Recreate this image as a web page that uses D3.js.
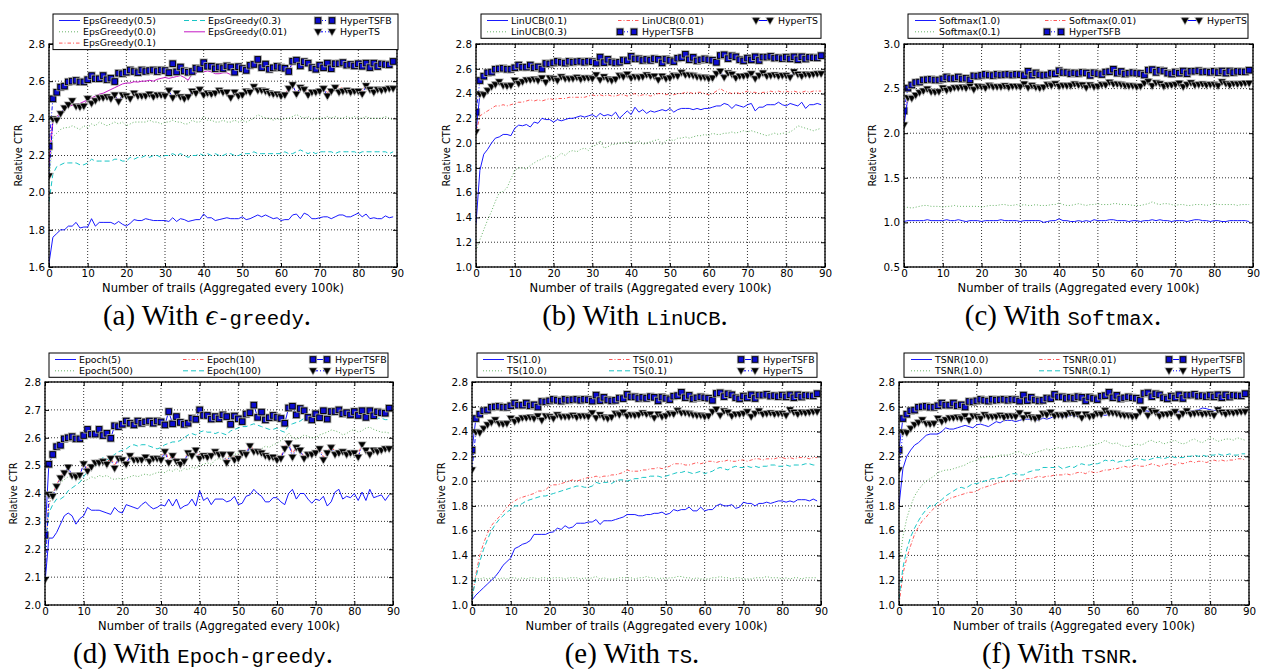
<!DOCTYPE html>
<html>
<head>
<meta charset="utf-8">
<script src="https://cdn.jsdelivr.net/npm/d3@7"></script>
<style>
body { margin: 0; background: #fff; }
svg { display: block; }
</style>
</head>
<body>
<svg id="fig" width="1261" height="669" font-family="DejaVu Sans, sans-serif"></svg>
<script>
// x positions: number of trails, aggregated every 100k
var trials = d3.range(0, 90);
var xTicks = [0, 10, 20, 30, 40, 50, 60, 70, 80, 90];

// shared by every panel
var hyperTSFB = [
  2.25, 2.505, 2.54, 2.568, 2.573, 2.596, 2.60, 2.604, 2.596, 2.596,
  2.608, 2.63, 2.613, 2.613, 2.63, 2.608, 2.616, 2.598, 2.643, 2.64,
  2.648, 2.66, 2.652, 2.646, 2.66, 2.652, 2.657, 2.66, 2.652, 2.66,
  2.657, 2.646, 2.694, 2.65, 2.676, 2.655, 2.648, 2.652, 2.67, 2.666,
  2.70, 2.68, 2.68, 2.667, 2.676, 2.668, 2.682, 2.676, 2.648, 2.678,
  2.668, 2.658, 2.685, 2.69, 2.717, 2.673, 2.692, 2.664, 2.672, 2.68,
  2.673, 2.669, 2.652, 2.707, 2.713, 2.682, 2.705, 2.697, 2.673, 2.664,
  2.686, 2.672, 2.697, 2.667, 2.694, 2.694, 2.70, 2.686, 2.69, 2.682,
  2.694, 2.68, 2.697, 2.673, 2.697, 2.679, 2.693, 2.69, 2.688, 2.706];
var hyperTS = [
  2.09, 2.396, 2.39, 2.425, 2.455, 2.473, 2.494, 2.464, 2.46, 2.465,
  2.506, 2.48, 2.495, 2.51, 2.51, 2.515, 2.505, 2.525, 2.49, 2.525,
  2.52, 2.505, 2.535, 2.52, 2.52, 2.52, 2.53, 2.515, 2.525, 2.525,
  2.52, 2.55, 2.51, 2.535, 2.515, 2.505, 2.515, 2.545, 2.535, 2.555,
  2.525, 2.535, 2.53, 2.535, 2.55, 2.54, 2.54, 2.51, 2.54, 2.52,
  2.525, 2.545, 2.54, 2.57, 2.55, 2.55, 2.545, 2.535, 2.53, 2.53,
  2.52, 2.525, 2.56, 2.58, 2.53, 2.565, 2.555, 2.525, 2.54, 2.54,
  2.545, 2.56, 2.52, 2.545, 2.565, 2.54, 2.545, 2.55, 2.54, 2.545,
  2.545, 2.53, 2.575, 2.555, 2.54, 2.555, 2.55, 2.555, 2.56, 2.56];

// (a) epsilon-greedy
var eps05 = [
  1.62, 1.76, 1.78, 1.80, 1.80, 1.82, 1.82, 1.84, 1.81, 1.815,
  1.815, 1.86, 1.82, 1.84, 1.84, 1.84, 1.84, 1.83, 1.845, 1.83,
  1.82, 1.835, 1.855, 1.85, 1.85, 1.86, 1.855, 1.85, 1.85, 1.85,
  1.85, 1.845, 1.865, 1.845, 1.86, 1.855, 1.845, 1.85, 1.855, 1.855,
  1.885, 1.865, 1.865, 1.85, 1.855, 1.86, 1.865, 1.86, 1.86, 1.86,
  1.87, 1.855, 1.86, 1.87, 1.88, 1.87, 1.88, 1.87, 1.86, 1.865,
  1.85, 1.855, 1.855, 1.88, 1.885, 1.86, 1.89, 1.88, 1.86, 1.86,
  1.865, 1.87, 1.87, 1.86, 1.87, 1.88, 1.88, 1.87, 1.87, 1.88,
  1.89, 1.87, 1.885, 1.86, 1.865, 1.86, 1.86, 1.875, 1.865, 1.87];
var eps00 = [
  2.05, 2.30, 2.32, 2.34, 2.35, 2.35, 2.36, 2.35, 2.34, 2.36,
  2.35, 2.37, 2.36, 2.38, 2.37, 2.36, 2.37, 2.38, 2.37, 2.38,
  2.36, 2.37, 2.38, 2.38, 2.38, 2.38, 2.39, 2.38, 2.38, 2.37,
  2.38, 2.38, 2.39, 2.38, 2.38, 2.37, 2.37, 2.39, 2.38, 2.38,
  2.41, 2.39, 2.39, 2.38, 2.38, 2.39, 2.38, 2.38, 2.39, 2.38,
  2.39, 2.38, 2.39, 2.40, 2.42, 2.41, 2.40, 2.40, 2.39, 2.40,
  2.39, 2.40, 2.40, 2.41, 2.42, 2.41, 2.40, 2.41, 2.39, 2.40,
  2.40, 2.40, 2.41, 2.40, 2.41, 2.40, 2.40, 2.41, 2.40, 2.41,
  2.40, 2.40, 2.41, 2.40, 2.40, 2.40, 2.40, 2.41, 2.40, 2.39];
var eps01 = [
  2.20, 2.39, 2.41, 2.43, 2.45, 2.47, 2.48, 2.47, 2.47, 2.47,
  2.50, 2.49, 2.50, 2.51, 2.51, 2.51, 2.51, 2.52, 2.50, 2.52,
  2.52, 2.51, 2.53, 2.52, 2.52, 2.52, 2.53, 2.52, 2.52, 2.53,
  2.52, 2.54, 2.52, 2.53, 2.52, 2.51, 2.52, 2.54, 2.54, 2.55,
  2.53, 2.54, 2.53, 2.54, 2.55, 2.54, 2.54, 2.52, 2.54, 2.53,
  2.53, 2.55, 2.54, 2.56, 2.56, 2.55, 2.55, 2.54, 2.54, 2.54,
  2.53, 2.53, 2.56, 2.57, 2.54, 2.56, 2.56, 2.54, 2.55, 2.55,
  2.55, 2.56, 2.54, 2.55, 2.57, 2.57, 2.56, 2.56, 2.55, 2.56,
  2.56, 2.55, 2.58, 2.57, 2.55, 2.56, 2.56, 2.56, 2.57, 2.57];
var eps03 = [
  1.95, 2.10, 2.14, 2.15, 2.16, 2.16, 2.16, 2.16, 2.15, 2.15,
  2.16, 2.18, 2.17, 2.17, 2.17, 2.17, 2.17, 2.18, 2.18, 2.17,
  2.17, 2.19, 2.18, 2.19, 2.19, 2.20, 2.19, 2.20, 2.20, 2.19,
  2.20, 2.20, 2.21, 2.20, 2.21, 2.20, 2.19, 2.20, 2.20, 2.21,
  2.20, 2.21, 2.20, 2.21, 2.20, 2.20, 2.21, 2.21, 2.20, 2.20,
  2.21, 2.21, 2.21, 2.22, 2.21, 2.21, 2.21, 2.21, 2.21, 2.21,
  2.21, 2.22, 2.21, 2.21, 2.22, 2.23, 2.22, 2.21, 2.22, 2.21,
  2.22, 2.22, 2.22, 2.22, 2.21, 2.22, 2.22, 2.22, 2.22, 2.22,
  2.21, 2.22, 2.22, 2.22, 2.22, 2.22, 2.22, 2.22, 2.21, 2.22];
var eps001 = [
  2.15, 2.38, 2.41, 2.43, 2.45, 2.465, 2.47, 2.475, 2.48, 2.49,
  2.50, 2.51, 2.52, 2.53, 2.535, 2.545, 2.555, 2.565, 2.575, 2.585,
  2.59, 2.59, 2.597, 2.595, 2.60, 2.60, 2.605, 2.60, 2.61, 2.615,
  2.62, 2.615, 2.62, 2.625, 2.63, 2.62, 2.605, 2.64, 2.64, 2.66,
  2.65, 2.655, 2.65, 2.64, 2.64, 2.645, 2.645, 2.635, 2.64, 2.655,
  2.65, 2.66, 2.68, 2.69, 2.70, 2.68, 2.685, 2.67, 2.675, 2.675,
  2.675, 2.67, 2.665, 2.69, 2.70, 2.685, 2.695, 2.685, 2.665, 2.67,
  2.68, 2.675, 2.69, 2.67, 2.69, 2.69, 2.695, 2.685, 2.685, 2.68,
  2.69, 2.68, 2.69, 2.675, 2.69, 2.68, 2.69, 2.685, 2.685, 2.695];

// (b) LinUCB
var linucb01 = [
  1.35, 1.78, 1.91, 1.95, 2.00, 2.04, 2.05, 2.07, 2.07, 2.06,
  2.12, 2.145, 2.14, 2.15, 2.13, 2.17, 2.16, 2.20, 2.19, 2.19,
  2.17, 2.19, 2.18, 2.19, 2.20, 2.20, 2.21, 2.22, 2.21, 2.22,
  2.23, 2.21, 2.24, 2.22, 2.23, 2.22, 2.25, 2.20, 2.23, 2.26,
  2.23, 2.29, 2.25, 2.27, 2.24, 2.26, 2.25, 2.26, 2.27, 2.26,
  2.28, 2.25, 2.27, 2.28, 2.28, 2.28, 2.27, 2.28, 2.27, 2.28,
  2.28, 2.29, 2.30, 2.30, 2.32, 2.31, 2.28, 2.31, 2.30, 2.29,
  2.31, 2.32, 2.26, 2.29, 2.29, 2.31, 2.31, 2.31, 2.33, 2.31,
  2.30, 2.32, 2.31, 2.30, 2.33, 2.28, 2.31, 2.31, 2.32, 2.31];
var linucb03 = [
  1.13, 1.22, 1.30, 1.38, 1.45, 1.53, 1.60, 1.61, 1.64, 1.71,
  1.78, 1.80, 1.80, 1.79, 1.82, 1.84, 1.86, 1.87, 1.89, 1.90,
  1.87, 1.89, 1.92, 1.90, 1.93, 1.94, 1.93, 1.95, 1.96, 1.94,
  1.98, 1.98, 2.02, 1.96, 1.97, 1.99, 1.99, 2.00, 2.00, 2.01,
  2.00, 2.00, 2.02, 1.99, 2.00, 2.01, 2.02, 2.03, 1.99, 2.02,
  2.03, 2.02, 2.04, 2.04, 2.05, 2.04, 2.05, 2.06, 2.06, 2.07,
  2.06, 2.08, 2.07, 2.07, 2.08, 2.08, 2.09, 2.08, 2.09, 2.10,
  2.09, 2.10, 2.09, 2.08, 2.07, 2.06, 2.07, 2.08, 2.07, 2.08,
  2.08, 2.09, 2.11, 2.14, 2.13, 2.12, 2.11, 2.10, 2.11, 2.12];
var linucb001 = [
  2.08, 2.22, 2.24, 2.26, 2.28, 2.30, 2.30, 2.31, 2.30, 2.31,
  2.32, 2.33, 2.33, 2.34, 2.35, 2.34, 2.35, 2.34, 2.35, 2.36,
  2.35, 2.36, 2.36, 2.36, 2.37, 2.37, 2.37, 2.37, 2.37, 2.38,
  2.39, 2.38, 2.39, 2.38, 2.39, 2.38, 2.38, 2.39, 2.39, 2.38,
  2.39, 2.40, 2.38, 2.39, 2.39, 2.38, 2.39, 2.40, 2.40, 2.39,
  2.40, 2.39, 2.40, 2.40, 2.41, 2.41, 2.40, 2.41, 2.41, 2.40,
  2.39, 2.40, 2.42, 2.44, 2.42, 2.41, 2.40, 2.41, 2.40, 2.41,
  2.42, 2.41, 2.41, 2.40, 2.41, 2.41, 2.42, 2.41, 2.42, 2.41,
  2.42, 2.41, 2.42, 2.41, 2.41, 2.42, 2.41, 2.42, 2.42, 2.42];

// (c) Softmax
var soft10 = [
  1.01, 1.02, 1.02, 1.02, 1.02, 1.02, 1.03, 1.02, 1.02, 1.02,
  1.02, 1.03, 1.02, 1.02, 1.03, 1.02, 1.01, 1.02, 1.02, 1.02,
  1.01, 1.02, 1.02, 1.02, 1.02, 1.03, 1.02, 1.02, 1.02, 1.02,
  1.01, 1.02, 1.02, 1.02, 1.02, 1.02, 1.00, 1.01, 1.02, 1.02,
  1.04, 1.02, 1.02, 1.01, 1.01, 1.02, 1.01, 1.02, 1.01, 1.03,
  1.02, 1.02, 1.02, 1.03, 1.03, 1.02, 1.02, 1.02, 1.01, 1.02,
  1.02, 1.01, 1.02, 1.02, 1.03, 1.02, 1.03, 1.02, 1.02, 1.01,
  1.02, 1.02, 1.02, 1.01, 1.02, 1.03, 1.03, 1.02, 1.02, 1.01,
  1.02, 1.02, 1.01, 1.01, 1.02, 1.02, 1.02, 1.02, 1.02, 1.01];
var soft01 = [
  1.16, 1.17, 1.16, 1.17, 1.18, 1.19, 1.19, 1.18, 1.18, 1.18,
  1.17, 1.18, 1.18, 1.19, 1.18, 1.18, 1.18, 1.18, 1.18, 1.18,
  1.17, 1.18, 1.19, 1.19, 1.19, 1.20, 1.20, 1.19, 1.19, 1.20,
  1.19, 1.20, 1.19, 1.19, 1.20, 1.19, 1.19, 1.19, 1.20, 1.20,
  1.22, 1.20, 1.19, 1.19, 1.20, 1.21, 1.20, 1.19, 1.20, 1.20,
  1.21, 1.20, 1.20, 1.20, 1.21, 1.21, 1.20, 1.20, 1.20, 1.19,
  1.19, 1.19, 1.20, 1.21, 1.23, 1.21, 1.20, 1.21, 1.21, 1.20,
  1.19, 1.20, 1.20, 1.19, 1.19, 1.20, 1.20, 1.20, 1.19, 1.20,
  1.21, 1.20, 1.20, 1.20, 1.20, 1.20, 1.19, 1.20, 1.20, 1.20];
var soft001 = [
  2.15, 2.40, 2.41, 2.43, 2.45, 2.47, 2.49, 2.47, 2.48, 2.48,
  2.51, 2.49, 2.50, 2.52, 2.51, 2.52, 2.51, 2.53, 2.51, 2.53,
  2.52, 2.52, 2.54, 2.53, 2.52, 2.53, 2.54, 2.52, 2.53, 2.53,
  2.53, 2.56, 2.52, 2.54, 2.52, 2.52, 2.53, 2.55, 2.54, 2.56,
  2.54, 2.54, 2.54, 2.55, 2.56, 2.55, 2.55, 2.52, 2.55, 2.53,
  2.53, 2.55, 2.55, 2.57, 2.56, 2.56, 2.55, 2.54, 2.54, 2.54,
  2.53, 2.53, 2.56, 2.58, 2.54, 2.57, 2.56, 2.53, 2.55, 2.55,
  2.55, 2.57, 2.53, 2.55, 2.57, 2.55, 2.56, 2.56, 2.55, 2.56,
  2.56, 2.54, 2.58, 2.56, 2.55, 2.56, 2.56, 2.56, 2.57, 2.57];

// (d) Epoch-greedy
var epoch5 = [
  2.08, 2.24, 2.24, 2.26, 2.29, 2.32, 2.33, 2.32, 2.29, 2.31,
  2.32, 2.35, 2.34, 2.34, 2.34, 2.335, 2.33, 2.325, 2.35, 2.335,
  2.33, 2.36, 2.355, 2.35, 2.345, 2.36, 2.37, 2.355, 2.345, 2.35,
  2.36, 2.355, 2.38, 2.355, 2.38, 2.345, 2.355, 2.36, 2.38, 2.355,
  2.41, 2.375, 2.385, 2.36, 2.38, 2.38, 2.38, 2.37, 2.375, 2.39,
  2.36, 2.365, 2.39, 2.395, 2.415, 2.40, 2.39, 2.37, 2.37, 2.385,
  2.385, 2.37, 2.36, 2.40, 2.415, 2.38, 2.40, 2.40, 2.38, 2.365,
  2.38, 2.375, 2.39, 2.355, 2.37, 2.405, 2.415, 2.38, 2.39, 2.385,
  2.40, 2.375, 2.405, 2.375, 2.415, 2.385, 2.39, 2.395, 2.375, 2.395];
var epoch500 = [
  2.20, 2.36, 2.40, 2.42, 2.44, 2.45, 2.46, 2.46, 2.455, 2.45,
  2.445, 2.45, 2.46, 2.455, 2.465, 2.46, 2.465, 2.455, 2.45, 2.455,
  2.45, 2.455, 2.46, 2.465, 2.46, 2.466, 2.47, 2.465, 2.47, 2.475,
  2.478, 2.475, 2.485, 2.48, 2.49, 2.478, 2.49, 2.485, 2.495, 2.49,
  2.50, 2.505, 2.51, 2.505, 2.52, 2.526, 2.52, 2.53, 2.525, 2.54,
  2.545, 2.55, 2.545, 2.56, 2.555, 2.556, 2.56, 2.57, 2.565, 2.575,
  2.58, 2.59, 2.60, 2.617, 2.60, 2.595, 2.60, 2.61, 2.605, 2.60,
  2.60, 2.61, 2.615, 2.62, 2.628, 2.625, 2.62, 2.61, 2.615, 2.625,
  2.63, 2.62, 2.625, 2.635, 2.638, 2.63, 2.625, 2.62, 2.62, 2.617];
var epoch10 = [
  2.20, 2.36, 2.40, 2.43, 2.46, 2.48, 2.49, 2.47, 2.46, 2.47,
  2.51, 2.49, 2.50, 2.51, 2.52, 2.52, 2.51, 2.53, 2.50, 2.53,
  2.52, 2.51, 2.54, 2.53, 2.52, 2.53, 2.53, 2.52, 2.53, 2.53,
  2.53, 2.56, 2.52, 2.54, 2.52, 2.51, 2.52, 2.55, 2.54, 2.56,
  2.53, 2.54, 2.53, 2.54, 2.555, 2.55, 2.54, 2.52, 2.545, 2.53,
  2.53, 2.55, 2.545, 2.575, 2.555, 2.555, 2.55, 2.54, 2.535, 2.535,
  2.53, 2.53, 2.57, 2.59, 2.54, 2.57, 2.56, 2.53, 2.545, 2.545,
  2.55, 2.57, 2.53, 2.55, 2.57, 2.55, 2.55, 2.555, 2.545, 2.55,
  2.55, 2.54, 2.58, 2.56, 2.545, 2.56, 2.555, 2.56, 2.565, 2.565];
var epoch100 = [
  2.20, 2.33, 2.36, 2.38, 2.38, 2.39, 2.41, 2.42, 2.43, 2.44,
  2.46, 2.48, 2.49, 2.50, 2.51, 2.53, 2.52, 2.53, 2.54, 2.55,
  2.555, 2.56, 2.57, 2.575, 2.57, 2.575, 2.575, 2.57, 2.565, 2.56,
  2.565, 2.575, 2.58, 2.585, 2.585, 2.59, 2.60, 2.61, 2.615, 2.61,
  2.62, 2.625, 2.62, 2.62, 2.615, 2.62, 2.615, 2.61, 2.625, 2.63,
  2.635, 2.64, 2.64, 2.645, 2.65, 2.645, 2.64, 2.635, 2.63, 2.63,
  2.635, 2.625, 2.62, 2.645, 2.65, 2.655, 2.66, 2.67, 2.675, 2.68,
  2.68, 2.675, 2.68, 2.685, 2.68, 2.68, 2.685, 2.68, 2.68, 2.675,
  2.68, 2.68, 2.675, 2.68, 2.675, 2.67, 2.67, 2.67, 2.665, 2.665];

// (e) TS
var ts10 = [
  1.04, 1.08, 1.11, 1.14, 1.17, 1.20, 1.23, 1.27, 1.32, 1.35,
  1.38, 1.455, 1.47, 1.49, 1.50, 1.52, 1.57, 1.57, 1.57, 1.57,
  1.585, 1.59, 1.62, 1.61, 1.64, 1.62, 1.63, 1.66, 1.66, 1.66,
  1.67, 1.67, 1.69, 1.65, 1.68, 1.68, 1.68, 1.69, 1.70, 1.71,
  1.73, 1.73, 1.73, 1.72, 1.72, 1.73, 1.73, 1.74, 1.74, 1.75,
  1.73, 1.74, 1.77, 1.76, 1.77, 1.77, 1.79, 1.76, 1.76, 1.79,
  1.76, 1.77, 1.77, 1.80, 1.815, 1.80, 1.80, 1.81, 1.78, 1.79,
  1.83, 1.82, 1.82, 1.80, 1.82, 1.82, 1.83, 1.82, 1.83, 1.84,
  1.84, 1.83, 1.84, 1.83, 1.85, 1.85, 1.85, 1.84, 1.855, 1.84];
var ts100 = [
  1.21, 1.22, 1.21, 1.22, 1.21, 1.22, 1.22, 1.21, 1.22, 1.21,
  1.22, 1.22, 1.21, 1.22, 1.21, 1.22, 1.22, 1.21, 1.22, 1.22,
  1.21, 1.22, 1.22, 1.22, 1.21, 1.22, 1.22, 1.22, 1.21, 1.22,
  1.21, 1.22, 1.23, 1.21, 1.22, 1.21, 1.21, 1.21, 1.22, 1.22,
  1.22, 1.22, 1.21, 1.22, 1.22, 1.23, 1.22, 1.22, 1.21, 1.22,
  1.21, 1.22, 1.22, 1.23, 1.23, 1.22, 1.22, 1.21, 1.22, 1.21,
  1.21, 1.21, 1.22, 1.22, 1.23, 1.22, 1.22, 1.21, 1.22, 1.22,
  1.21, 1.21, 1.21, 1.22, 1.22, 1.22, 1.23, 1.22, 1.22, 1.22,
  1.21, 1.22, 1.21, 1.22, 1.22, 1.21, 1.22, 1.22, 1.22, 1.22];
var ts001 = [
  1.05, 1.25, 1.40, 1.50, 1.58, 1.64, 1.68, 1.71, 1.75, 1.79,
  1.82, 1.84, 1.86, 1.87, 1.88, 1.89, 1.90, 1.92, 1.92, 1.93,
  1.96, 1.97, 1.97, 1.98, 1.99, 2.00, 2.01, 2.00, 2.01, 2.02,
  2.03, 2.03, 2.04, 2.03, 2.04, 2.04, 2.05, 2.05, 2.06, 2.07,
  2.09, 2.08, 2.08, 2.08, 2.09, 2.09, 2.10, 2.10, 2.11, 2.10,
  2.11, 2.12, 2.14, 2.14, 2.14, 2.13, 2.13, 2.14, 2.15, 2.14,
  2.15, 2.16, 2.16, 2.15, 2.16, 2.16, 2.17, 2.16, 2.16, 2.17,
  2.17, 2.16, 2.17, 2.18, 2.18, 2.17, 2.18, 2.18, 2.18, 2.19,
  2.19, 2.18, 2.19, 2.18, 2.19, 2.19, 2.19, 2.18, 2.19, 2.19];
var ts01 = [
  1.05, 1.22, 1.35, 1.45, 1.53, 1.60, 1.65, 1.69, 1.72, 1.75,
  1.77, 1.80, 1.80, 1.82, 1.84, 1.85, 1.86, 1.87, 1.88, 1.88,
  1.89, 1.90, 1.91, 1.92, 1.93, 1.94, 1.95, 1.96, 1.96, 1.95,
  1.95, 1.96, 1.99, 1.98, 1.99, 1.99, 1.98, 2.00, 2.01, 2.01,
  2.00, 2.01, 2.02, 2.02, 2.03, 2.03, 2.04, 2.04, 2.04, 2.03,
  2.04, 2.05, 2.06, 2.07, 2.07, 2.08, 2.07, 2.06, 2.07, 2.08,
  2.06, 2.07, 2.08, 2.10, 2.11, 2.10, 2.09, 2.11, 2.12, 2.11,
  2.11, 2.12, 2.11, 2.12, 2.11, 2.12, 2.12, 2.13, 2.13, 2.12,
  2.12, 2.13, 2.12, 2.13, 2.13, 2.13, 2.14, 2.14, 2.13, 2.13];

// (f) TSNR
var tsnr10 = [
  1.80, 2.10, 2.20, 2.25, 2.29, 2.31, 2.34, 2.37, 2.38, 2.38,
  2.38, 2.40, 2.43, 2.42, 2.42, 2.43, 2.44, 2.45, 2.44, 2.43,
  2.455, 2.46, 2.45, 2.44, 2.46, 2.48, 2.47, 2.49, 2.49, 2.49,
  2.48, 2.49, 2.50, 2.50, 2.50, 2.50, 2.49, 2.51, 2.50, 2.51,
  2.525, 2.52, 2.52, 2.52, 2.53, 2.53, 2.52, 2.52, 2.53, 2.53,
  2.53, 2.53, 2.54, 2.53, 2.54, 2.54, 2.55, 2.55, 2.55, 2.55,
  2.54, 2.545, 2.55, 2.57, 2.565, 2.56, 2.555, 2.55, 2.55, 2.555,
  2.555, 2.56, 2.56, 2.56, 2.57, 2.565, 2.57, 2.575, 2.59, 2.585,
  2.575, 2.57, 2.57, 2.57, 2.565, 2.565, 2.57, 2.57, 2.575, 2.57];
var tsnr1 = [
  1.30, 1.55, 1.70, 1.80, 1.88, 1.93, 1.97, 2.00, 2.02, 2.04,
  2.07, 2.08, 2.09, 2.09, 2.10, 2.11, 2.12, 2.13, 2.15, 2.16,
  2.17, 2.19, 2.19, 2.20, 2.19, 2.20, 2.21, 2.21, 2.21, 2.22,
  2.23, 2.24, 2.22, 2.21, 2.22, 2.23, 2.24, 2.25, 2.26, 2.25,
  2.26, 2.27, 2.26, 2.27, 2.27, 2.28, 2.28, 2.27, 2.28, 2.29,
  2.29, 2.30, 2.31, 2.33, 2.31, 2.30, 2.31, 2.29, 2.28, 2.28,
  2.29, 2.30, 2.29, 2.30, 2.32, 2.33, 2.31, 2.32, 2.30, 2.31,
  2.32, 2.33, 2.31, 2.30, 2.31, 2.33, 2.34, 2.32, 2.31, 2.33,
  2.35, 2.34, 2.32, 2.33, 2.34, 2.34, 2.33, 2.35, 2.34, 2.33];
var tsnr001 = [
  1.00, 1.25, 1.38, 1.48, 1.57, 1.63, 1.68, 1.71, 1.75, 1.78,
  1.80, 1.82, 1.84, 1.86, 1.87, 1.88, 1.89, 1.90, 1.91, 1.91,
  1.92, 1.94, 1.95, 1.96, 1.97, 1.98, 1.99, 2.00, 2.00, 2.00,
  2.01, 2.00, 2.01, 2.02, 2.02, 2.03, 2.04, 2.03, 2.04, 2.04,
  2.05, 2.05, 2.05, 2.06, 2.05, 2.06, 2.07, 2.07, 2.06, 2.08,
  2.07, 2.07, 2.08, 2.09, 2.09, 2.10, 2.10, 2.11, 2.12, 2.11,
  2.12, 2.13, 2.12, 2.12, 2.13, 2.14, 2.13, 2.12, 2.13, 2.14,
  2.14, 2.13, 2.15, 2.14, 2.15, 2.16, 2.15, 2.16, 2.16, 2.15,
  2.16, 2.17, 2.16, 2.17, 2.16, 2.17, 2.17, 2.18, 2.18, 2.17];
var tsnr01 = [
  1.05, 1.30, 1.45, 1.55, 1.62, 1.68, 1.73, 1.77, 1.80, 1.80,
  1.83, 1.85, 1.88, 1.90, 1.92, 1.94, 1.95, 1.94, 1.96, 1.98,
  1.98, 1.99, 2.00, 2.01, 2.02, 2.02, 2.03, 2.03, 2.05, 2.06,
  2.06, 2.05, 2.05, 2.07, 2.08, 2.09, 2.09, 2.11, 2.11, 2.11,
  2.11, 2.12, 2.10, 2.11, 2.12, 2.11, 2.13, 2.14, 2.13, 2.13,
  2.14, 2.14, 2.15, 2.17, 2.16, 2.17, 2.15, 2.16, 2.16, 2.17,
  2.17, 2.18, 2.18, 2.17, 2.17, 2.18, 2.19, 2.19, 2.18, 2.19,
  2.20, 2.19, 2.19, 2.19, 2.20, 2.20, 2.21, 2.20, 2.21, 2.20,
  2.21, 2.21, 2.22, 2.21, 2.21, 2.22, 2.21, 2.21, 2.22, 2.22];

var yTicksA = [1.6, 1.8, 2.0, 2.2, 2.4, 2.6, 2.8];
var yTicksB = [1.0, 1.2, 1.4, 1.6, 1.8, 2.0, 2.2, 2.4, 2.6, 2.8];
var yTicksC = [0.5, 1.0, 1.5, 2.0, 2.5, 3.0];
var yTicksD = [2.0, 2.1, 2.2, 2.3, 2.4, 2.5, 2.6, 2.7, 2.8];

var SANS = "DejaVu Sans, sans-serif";
var SERIF = "Liberation Serif, serif";
var MONO = "Liberation Mono, monospace";

// line styles
var BLUE = {color: "#0000ff", dash: null, op: 0.9};
var GREEN = {color: "#008000", dash: "1,2", op: 0.6};
var RED = {color: "#ff0000", dash: "3.5,2,1,2", op: 0.65};
var CYAN = {color: "#00bfbf", dash: "5,3", op: 0.9};
var MAGENTA = {color: "#bf00bf", dash: null, op: 0.9};
var DASHDOT = "4,2,1,2";
var DOTTED = "1,2";

function s(label, data, st, marker, dash) {
  return {label: label, data: data, color: st.color, dash: dash === undefined ? st.dash : dash,
          op: st.op, marker: marker || null};
}

var panels = [
  {id: "a", left: 49, right: 397, top: 44, bottom: 267, yDomain: [1.6, 2.8], yTicks: yTicksA,
   series: [s("EpsGreedy(0.5)", eps05, BLUE), s("EpsGreedy(0.0)", eps00, GREEN), s("EpsGreedy(0.1)", eps01, RED),
            s("EpsGreedy(0.3)", eps03, CYAN), s("EpsGreedy(0.01)", eps001, MAGENTA),
            s("HyperTSFB", hyperTSFB, BLUE, "sq", DASHDOT), s("HyperTS", hyperTS, BLUE, "tri", DASHDOT)],
   legend: {x: 53, y: 14, w: 345, cols: [30, 155, 287]}, ylabX: 18,
   caption: [["(a) With ", "serif"], ["ϵ", "ital"], ["-greedy", "mono"], [".", "serif"]], capX: 207},
  {id: "b", left: 476, right: 825, top: 44, bottom: 267, yDomain: [1.0, 2.8], yTicks: yTicksB,
   series: [s("LinUCB(0.1)", linucb01, BLUE), s("LinUCB(0.3)", linucb03, GREEN), s("LinUCB(0.01)", linucb001, RED),
            s("HyperTSFB", hyperTSFB, BLUE, "sq", DASHDOT), s("HyperTS", hyperTS, BLUE, "tri", null)],
   legend: {x: 481, y: 14, w: 340, cols: [30, 161, 297]}, ylabX: 446,
   caption: [["(b) With ", "serif"], ["LinUCB", "mono"], [".", "serif"]], capX: 635},
  {id: "c", left: 904, right: 1253, top: 44, bottom: 267, yDomain: [0.5, 3.0], yTicks: yTicksC,
   series: [s("Softmax(1.0)", soft10, BLUE), s("Softmax(0.1)", soft01, GREEN), s("Softmax(0.01)", soft001, RED),
            s("HyperTSFB", hyperTSFB, BLUE, "sq", DASHDOT), s("HyperTS", hyperTS, BLUE, "tri", null)],
   legend: {x: 908, y: 14, w: 340, cols: [31, 161, 299]}, ylabX: 872,
   caption: [["(c) With ", "serif"], ["Softmax", "mono"], [".", "serif"]], capX: 1063},
  {id: "d", left: 45, right: 393, top: 382, bottom: 605, yDomain: [2.0, 2.8], yTicks: yTicksD,
   series: [s("Epoch(5)", epoch5, BLUE), s("Epoch(500)", epoch500, GREEN), s("Epoch(10)", epoch10, RED),
            s("Epoch(100)", epoch100, CYAN),
            s("HyperTSFB", hyperTSFB, BLUE, "sq", null), s("HyperTS", hyperTS, BLUE, "tri", DASHDOT)],
   legend: {x: 49, y: 353, w: 339, cols: [30, 158, 286]}, ylabX: 13,
   caption: [["(d) With ", "serif"], ["Epoch-greedy", "mono"], [".", "serif"]], capX: 203},
  {id: "e", left: 472, right: 821, top: 382, bottom: 605, yDomain: [1.0, 2.8], yTicks: yTicksB,
   series: [s("TS(1.0)", ts10, BLUE), s("TS(10.0)", ts100, GREEN), s("TS(0.01)", ts001, RED),
            s("TS(0.1)", ts01, CYAN),
            s("HyperTSFB", hyperTSFB, BLUE, "sq", null), s("HyperTS", hyperTS, BLUE, "tri", DASHDOT)],
   legend: {x: 477, y: 353, w: 340, cols: [30, 156, 286]}, ylabX: 441,
   caption: [["(e) With ", "serif"], ["TS", "mono"], [".", "serif"]], capX: 632},
  {id: "f", left: 899, right: 1249, top: 382, bottom: 605, yDomain: [1.0, 2.8], yTicks: yTicksB,
   series: [s("TSNR(10.0)", tsnr10, BLUE), s("TSNR(1.0)", tsnr1, GREEN), s("TSNR(0.01)", tsnr001, RED),
            s("TSNR(0.1)", tsnr01, CYAN),
            s("HyperTSFB", hyperTSFB, BLUE, "sq", null), s("HyperTS", hyperTS, BLUE, "tri", DOTTED)],
   legend: {x: 904, y: 353, w: 340, cols: [31, 159, 287]}, ylabX: 869,
   caption: [["(f) With ", "serif"], ["TSNR", "mono"], [".", "serif"]], capX: 1060}
];

var svg = d3.select("#fig");
var defs = svg.append("defs");

// pick font sizes so text widths match the reference
var meas = svg.append("text").attr("visibility", "hidden");
function textW(str, family, size) {
  meas.attr("font-family", family).attr("font-size", size).text(str);
  return meas.node().getComputedTextLength();
}
var legendSize = 10 * 73 / textW("EpsGreedy(0.5)", SANS, 10);
var xlabSize = 10 * 242 / textW("Number of trails (Aggregated every 100k)", SANS, 10);
var ylabSize = 10 * 62 / textW("Relative CTR", SANS, 10);
var tickSize = 10 * 16.5 / textW("2.8", SANS, 10);
var serifSize = 10 * 97 / textW("(b) With ", SERIF, 10);
var monoSize = 10 * 12.4 / textW("M", MONO, 10);
meas.remove();

var triPath = "M-3,-2.3L3,-2.3L0,2.9Z";

function drawMarker(sel, type, cx, cy) {
  var m = sel.append("g").attr("transform", "translate(" + cx + "," + cy + ")");
  if (type === "sq") {
    m.append("rect").attr("x", -3).attr("y", -3).attr("width", 6).attr("height", 6)
      .attr("fill", "none").attr("stroke", "#aaa").attr("stroke-width", 2.2);
    m.append("rect").attr("x", -2.8).attr("y", -2.8).attr("width", 5.6).attr("height", 5.6)
      .attr("fill", "#0c0cd0").attr("stroke", "#000").attr("stroke-width", 0.9);
  } else {
    m.append("path").attr("d", triPath)
      .attr("fill", "none").attr("stroke", "#aaa").attr("stroke-width", 2);
    m.append("path").attr("d", triPath)
      .attr("fill", "#000").attr("stroke", "#000").attr("stroke-width", 0.6);
  }
}

panels.forEach(function(p) {
  var g = svg.append("g");
  var x = d3.scaleLinear().domain([0, 90]).range([p.left, p.right]);
  var y = d3.scaleLinear().domain(p.yDomain).range([p.bottom, p.top]);

  defs.append("clipPath").attr("id", "clip-" + p.id).append("rect")
    .attr("x", p.left).attr("y", p.top).attr("width", p.right - p.left).attr("height", p.bottom - p.top);

  // dotted grid
  g.append("g").selectAll("line").data(xTicks).join("line")
    .attr("x1", d => x(d)).attr("x2", d => x(d)).attr("y1", p.top).attr("y2", p.bottom)
    .attr("stroke", "#000").attr("stroke-width", 0.8).attr("stroke-dasharray", "1,2");
  g.append("g").selectAll("line").data(p.yTicks).join("line")
    .attr("x1", p.left).attr("x2", p.right).attr("y1", d => y(d)).attr("y2", d => y(d))
    .attr("stroke", "#000").attr("stroke-width", 0.8).attr("stroke-dasharray", "1,2");

  var plot = g.append("g").attr("clip-path", "url(#clip-" + p.id + ")");
  var line = d3.line().x((d, i) => x(trials[i])).y(d => y(d));

  p.series.forEach(function(sr) {
    plot.append("path").datum(sr.data)
      .attr("d", line).attr("fill", "none")
      .attr("stroke", sr.color).attr("stroke-width", 1).attr("stroke-opacity", sr.op)
      .attr("stroke-dasharray", sr.dash);
    if (sr.marker) {
      var mg = plot.append("g");
      sr.data.forEach(function(v, i) { drawMarker(mg, sr.marker, x(trials[i]), y(v)); });
    }
  });

  // frame
  g.append("rect").attr("x", p.left).attr("y", p.top)
    .attr("width", p.right - p.left).attr("height", p.bottom - p.top)
    .attr("fill", "none").attr("stroke", "#000").attr("stroke-width", 1.3);

  // axes with inward ticks
  g.append("g").attr("transform", "translate(0," + p.bottom + ")")
    .call(d3.axisBottom(x).tickValues(xTicks).tickSize(-4).tickPadding(3).tickFormat(d3.format("d")));
  g.append("g").attr("transform", "translate(" + p.left + ",0)")
    .call(d3.axisLeft(y).tickValues(p.yTicks).tickSize(-4).tickPadding(4).tickFormat(d3.format(".1f")));
  g.append("g").attr("transform", "translate(0," + p.top + ")")
    .call(d3.axisTop(x).tickValues(xTicks).tickSize(-4).tickFormat(""));
  g.append("g").attr("transform", "translate(" + p.right + ",0)")
    .call(d3.axisRight(y).tickValues(p.yTicks).tickSize(-4).tickFormat(""));
  g.selectAll(".domain").remove();
  g.selectAll(".tick line").attr("stroke", "#000");
  g.selectAll(".tick text").attr("font-family", SANS).attr("font-size", tickSize).attr("fill", "#000");

  g.append("text").attr("x", (p.left + p.right) / 2).attr("y", p.bottom + 24.5)
    .attr("text-anchor", "middle").attr("font-family", SANS).attr("font-size", xlabSize)
    .text("Number of trails (Aggregated every 100k)");
  g.append("text").attr("transform", "translate(" + (p.ylabX + 3.5) + "," + ((p.top + p.bottom) / 2) + ") rotate(-90)")
    .attr("text-anchor", "middle").attr("font-family", SANS).attr("font-size", ylabSize).text("Relative CTR");

  // legend, filled column by column like ncol=3
  var n = p.series.length;
  var rows = Math.ceil(n / 3);
  var extra = n % 3;
  var lg = g.append("g");
  var lh = 13 + (rows - 1) * 11.3;
  lg.append("rect").attr("x", p.legend.x).attr("y", p.legend.y)
    .attr("width", p.legend.w).attr("height", lh)
    .attr("fill", "#fff").attr("stroke", "#000").attr("stroke-width", 1);
  var idx = 0;
  for (var c = 0; c < 3; c++) {
    var cnt = rows - ((extra !== 0 && c >= extra) ? 1 : 0);
    for (var r = 0; r < cnt && idx < n; r++, idx++) {
      var sr = p.series[idx];
      var tx = p.legend.x + p.legend.cols[c];
      var ty = p.legend.y + 6.5 + r * 11.3;
      if (sr.marker) {
        lg.append("line").attr("x1", tx - 21).attr("x2", tx - 7).attr("y1", ty).attr("y2", ty)
          .attr("stroke", sr.color).attr("stroke-width", 1).attr("stroke-dasharray", sr.dash);
        drawMarker(lg, sr.marker, tx - 22, ty);
        drawMarker(lg, sr.marker, tx - 8, ty);
      } else {
        lg.append("line").attr("x1", tx - 24).attr("x2", tx - 3).attr("y1", ty).attr("y2", ty)
          .attr("stroke", sr.color).attr("stroke-width", 1).attr("stroke-opacity", sr.op)
          .attr("stroke-dasharray", sr.dash);
      }
      lg.append("text").attr("x", tx).attr("y", ty + legendSize * 0.36)
        .attr("font-family", SANS).attr("font-size", legendSize).text(sr.label);
    }
  }

  // caption
  var cap = g.append("text").attr("x", p.capX).attr("y", p.bottom + 58)
    .attr("text-anchor", "middle").attr("fill", "#000");
  p.caption.forEach(function(part) {
    var t = cap.append("tspan").text(part[0]);
    if (part[1] === "mono") t.attr("font-family", MONO).attr("font-size", monoSize);
    else if (part[1] === "ital") t.attr("font-family", SERIF).attr("font-style", "italic").attr("font-size", serifSize);
    else t.attr("font-family", SERIF).attr("font-size", serifSize);
  });
});
</script>
</body>
</html>
